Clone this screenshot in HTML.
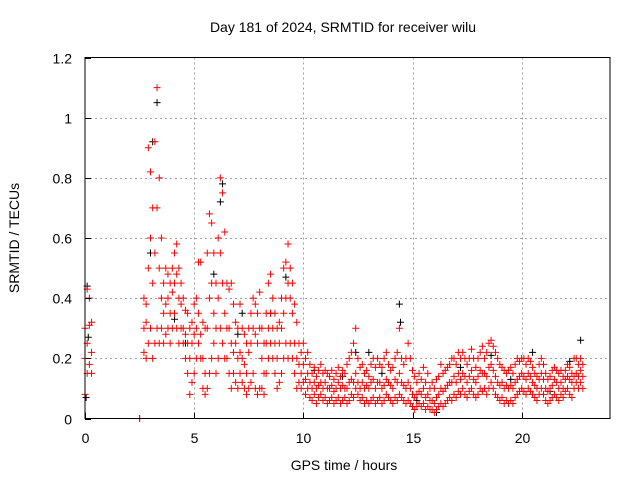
<!DOCTYPE html>
<html><head><meta charset="utf-8"><style>
body{margin:0;background:#fff}
svg text{font-family:"Liberation Sans",sans-serif;font-size:14px;fill:#000}
</style></head><body>
<svg id="c" width="640" height="480">
<rect width="640" height="480" fill="#fff"/>
<g id="grid"></g>
<g id="marks"></g>
<rect x="85" y="57.5" width="525" height="361" fill="none" stroke="#000" stroke-width="1"/>
<g id="ticks"></g>
<text x="343" y="32" text-anchor="middle">Day 181 of 2024, SRMTID for receiver wilu</text>
<text x="344" y="470" text-anchor="middle">GPS time / hours</text>
<text transform="translate(19,238) rotate(-90)" text-anchor="middle">SRMTID / TECUs</text>
</svg>
<script>
const xTicks=[0,5,10,15,20];
const yTicks=[0,0.2,0.4,0.6,0.8,1,1.2];
const yTickLabels=["0","0.2","0.4","0.6","0.8","1","1.2"];
const times=[0,0.1,0.2,0.3,2.5,2.7,2.8,2.9,3.0,3.1,3.2,3.3,3.4,3.5,3.6,3.7,3.8,3.9,4.0,4.1,4.2,4.3,4.4,4.5,4.6,4.7,4.8,4.9,5.0,5.1,5.2,5.3,5.4,5.5,5.6,5.7,5.8,5.9,6.0,6.1,6.2,6.3,6.4,6.5,6.6,6.7,6.8,6.9,7.0,7.1,7.2,7.3,7.4,7.5,7.6,7.7,7.8,7.9,8.0,8.1,8.2,8.3,8.4,8.5,8.6,8.7,8.8,8.9,9.0,9.1,9.2,9.3,9.4,9.5,9.6,9.7,9.8,9.9,10.0,10.1,10.2,10.3,10.4,10.5,10.6,10.7,10.8,10.9,11.0,11.1,11.2,11.3,11.4,11.5,11.6,11.7,11.8,11.9,12.0,12.1,12.2,12.3,12.4,12.5,12.6,12.7,12.8,12.9,13.0,13.1,13.2,13.3,13.4,13.5,13.6,13.7,13.8,13.9,14.0,14.1,14.2,14.3,14.4,14.5,14.6,14.7,14.8,14.9,15.0,15.1,15.2,15.3,15.4,15.5,15.6,15.7,15.8,15.9,16.0,16.1,16.2,16.3,16.4,16.5,16.6,16.7,16.8,16.9,17.0,17.1,17.2,17.3,17.4,17.5,17.6,17.7,17.8,17.9,18.0,18.1,18.2,18.3,18.4,18.5,18.6,18.7,18.8,18.9,19.0,19.1,19.2,19.3,19.4,19.5,19.6,19.7,19.8,19.9,20.0,20.1,20.2,20.3,20.4,20.5,20.6,20.7,20.8,20.9,21.0,21.1,21.2,21.3,21.4,21.5,21.6,21.7,21.8,21.9,22.0,22.1,22.2,22.3,22.4,22.5,22.6,22.7,22.8];
const lowVals=[.08,.15,.18,.15,0,.22,.2,.25,.3,.2,.25,.3,.25,.3,.25,.28,.3,.25,.3,.35,.3,.25,.3,.25,.2,.15,.08,.12,.15,.2,.25,.2,.1,.08,.1,.15,.2,.25,.15,.2,.3,.25,.2,.2,.15,.1,.15,.12,.1,.15,.12,.1,.08,.1,.12,.15,.1,.08,.1,.1,.08,.15,.2,.25,.2,.15,.1,.12,.15,.2,.25,.2,.25,.2,.15,.1,.12,.1,.12,.08,.1,.07,.06,.08,.05,.07,.08,.06,.07,.05,.06,.07,.05,.06,.07,.05,.06,.07,.05,.06,.08,.07,.1,.08,.06,.07,.05,.06,.05,.06,.07,.05,.06,.07,.05,.06,.08,.07,.06,.05,.07,.06,.08,.07,.06,.05,.06,.05,.04,.03,.04,.05,.04,.05,.03,.04,.03,.03,.02,.03,.04,.05,.04,.05,.06,.07,.06,.08,.07,.09,.08,.1,.08,.07,.09,.1,.08,.07,.08,.1,.09,.1,.08,.1,.12,.1,.08,.07,.06,.07,.05,.06,.05,.06,.05,.07,.08,.09,.1,.09,.08,.1,.09,.08,.07,.06,.08,.1,.08,.06,.05,.06,.07,.08,.07,.06,.08,.07,.09,.1,.08,.07,.1,.12,.1,.12,.1];
const midVals=[.2,.25,.31,.22,0,.3,.32,.5,.6,.45,.55,.7,.5,.4,.35,.38,.4,.35,.42,.45,.48,.4,.38,.3,.28,.25,.2,.25,.28,.3,.35,.28,.2,.15,.3,.4,.45,.35,.3,.4,.55,.45,.35,.3,.3,.25,.22,.25,.2,.22,.2,.18,.15,.22,.25,.3,.28,.25,.3,.2,.15,.25,.3,.35,.3,.25,.2,.25,.3,.35,.4,.45,.4,.35,.25,.2,.18,.15,.18,.13,.15,.12,.1,.12,.1,.11,.12,.1,.12,.1,.1,.11,.09,.1,.12,.1,.11,.1,.1,.12,.13,.12,.15,.12,.1,.12,.1,.11,.1,.12,.13,.1,.12,.12,.1,.11,.13,.12,.11,.1,.13,.12,.15,.12,.11,.1,.12,.1,.08,.07,.08,.09,.08,.1,.07,.08,.06,.06,.05,.07,.08,.1,.09,.1,.11,.12,.12,.14,.12,.15,.13,.15,.14,.12,.14,.16,.13,.12,.14,.16,.15,.15,.14,.17,.18,.16,.14,.12,.11,.12,.1,.11,.1,.11,.1,.12,.13,.14,.15,.14,.13,.15,.14,.12,.11,.1,.13,.15,.13,.1,.09,.1,.11,.13,.12,.1,.12,.1,.13,.14,.13,.12,.14,.15,.14,.16,.14];
const highVals=[.3,.43,.4,.32,0,.4,.38,.9,.82,.7,.92,1.1,.8,.6,.45,.5,.48,.45,.5,.55,.58,.5,.45,.4,.36,.35,.3,.32,.38,.4,.52,.52,.32,.3,.55,.68,.65,.55,.45,.6,.8,.75,.62,.45,.43,.45,.38,.32,.3,.38,.3,.28,.25,.3,.35,.4,.38,.35,.42,.3,.25,.35,.45,.48,.4,.35,.3,.32,.4,.5,.52,.58,.5,.45,.38,.32,.25,.22,.25,.2,.22,.18,.15,.17,.14,.16,.18,.15,.16,.15,.14,.16,.13,.15,.17,.14,.16,.15,.18,.2,.22,.25,.3,.2,.17,.18,.15,.16,.14,.18,.2,.17,.2,.18,.17,.2,.22,.18,.16,.17,.2,.22,.3,.2,.18,.2,.25,.2,.16,.14,.12,.15,.13,.17,.12,.15,.1,.12,.1,.13,.14,.18,.15,.16,.17,.18,.2,.2,.18,.22,.2,.22,.2,.18,.2,.23,.2,.17,.2,.22,.24,.2,.22,.25,.26,.24,.22,.2,.18,.17,.16,.15,.16,.17,.15,.18,.2,.19,.2,.2,.18,.2,.19,.17,.15,.14,.18,.2,.18,.15,.13,.14,.16,.17,.16,.15,.16,.14,.16,.18,.17,.15,.2,.2,.18,.2,.18];
const blackTimes=[0.05,0.1,0.15,3.1,3.3,6.3,14.4,14.45,22.7,16.1,20.5,8.5,7.0,4.1,5.9,9.2,13.0,18.6,6.2,3.0,4.6,7.2,10.5,11.8,12.4,13.6,15.2,17.2,19.5,21.3,22.2];
const blackVals=[.07,.44,.27,.92,1.05,.78,.38,.32,.26,.02,.22,.35,.28,.33,.48,.47,.22,.21,.72,.55,.25,.35,.16,.14,.22,.15,.06,.17,.13,.09,.19];
const X0=85,X1=609,Y0=418.5,Y1=57.5;
const xs=t=>X0+(t/24)*(X1-X0);
const ys=v=>Y0-(v/1.2)*(Y0-Y1);
const NS="http://www.w3.org/2000/svg";
const grid=document.getElementById('grid'),ticks=document.getElementById('ticks'),marks=document.getElementById('marks');
function mk(tag,attrs,parent){const e=document.createElementNS(NS,tag);for(const k in attrs)e.setAttribute(k,attrs[k]);parent.appendChild(e);return e;}
xTicks.forEach((t,i)=>{const x=Math.round(xs(t))+0.5;
 if(t>0){const g=mk('line',{x1:x,x2:x,y1:Y1,y2:Y0,stroke:'#a0a0a0','stroke-dasharray':'2,3'},grid);
 
 }
 const l=mk('line',{x1:x,x2:x,y1:Y0,y2:Y0-6,stroke:'#000'},ticks);
 
 
 const tx=mk('text',{x:x,y:443,'text-anchor':'middle'},ticks);tx.textContent=String(t);
 
 });
yTicks.forEach((v,i)=>{const y=Math.round(ys(v))+0.5;
 if(v>0&&v<1.2){const g=mk('line',{x1:X0,x2:X1,y1:y,y2:y,stroke:'#a0a0a0','stroke-dasharray':'2,3'},grid);
 
 }
 const l=mk('line',{x1:X0,x2:X0+6,y1:y,y2:y,stroke:'#000'},ticks);
 
 
 const tx=mk('text',{x:72,y:y+5,'text-anchor':'end'},ticks);tx.textContent=yTickLabels[i];
 
 });
function plus(t,v,col,name){const x=xs(t),y=ys(v);
 const p=mk('path',{d:`M${x-3.5},${y}h7M${x},${y-3.5}v7`,stroke:col,'stroke-width':1,fill:'none'},marks);
 
 }
blackTimes.forEach((t,i)=>plus(t,blackVals[i],'#000','point-black'));
times.forEach((t,i)=>{plus(t,lowVals[i],'#f00','point-red');plus(t,midVals[i],'#f00','point-red');plus(t,highVals[i],'#f00','point-red');});
</script>
</body></html>
